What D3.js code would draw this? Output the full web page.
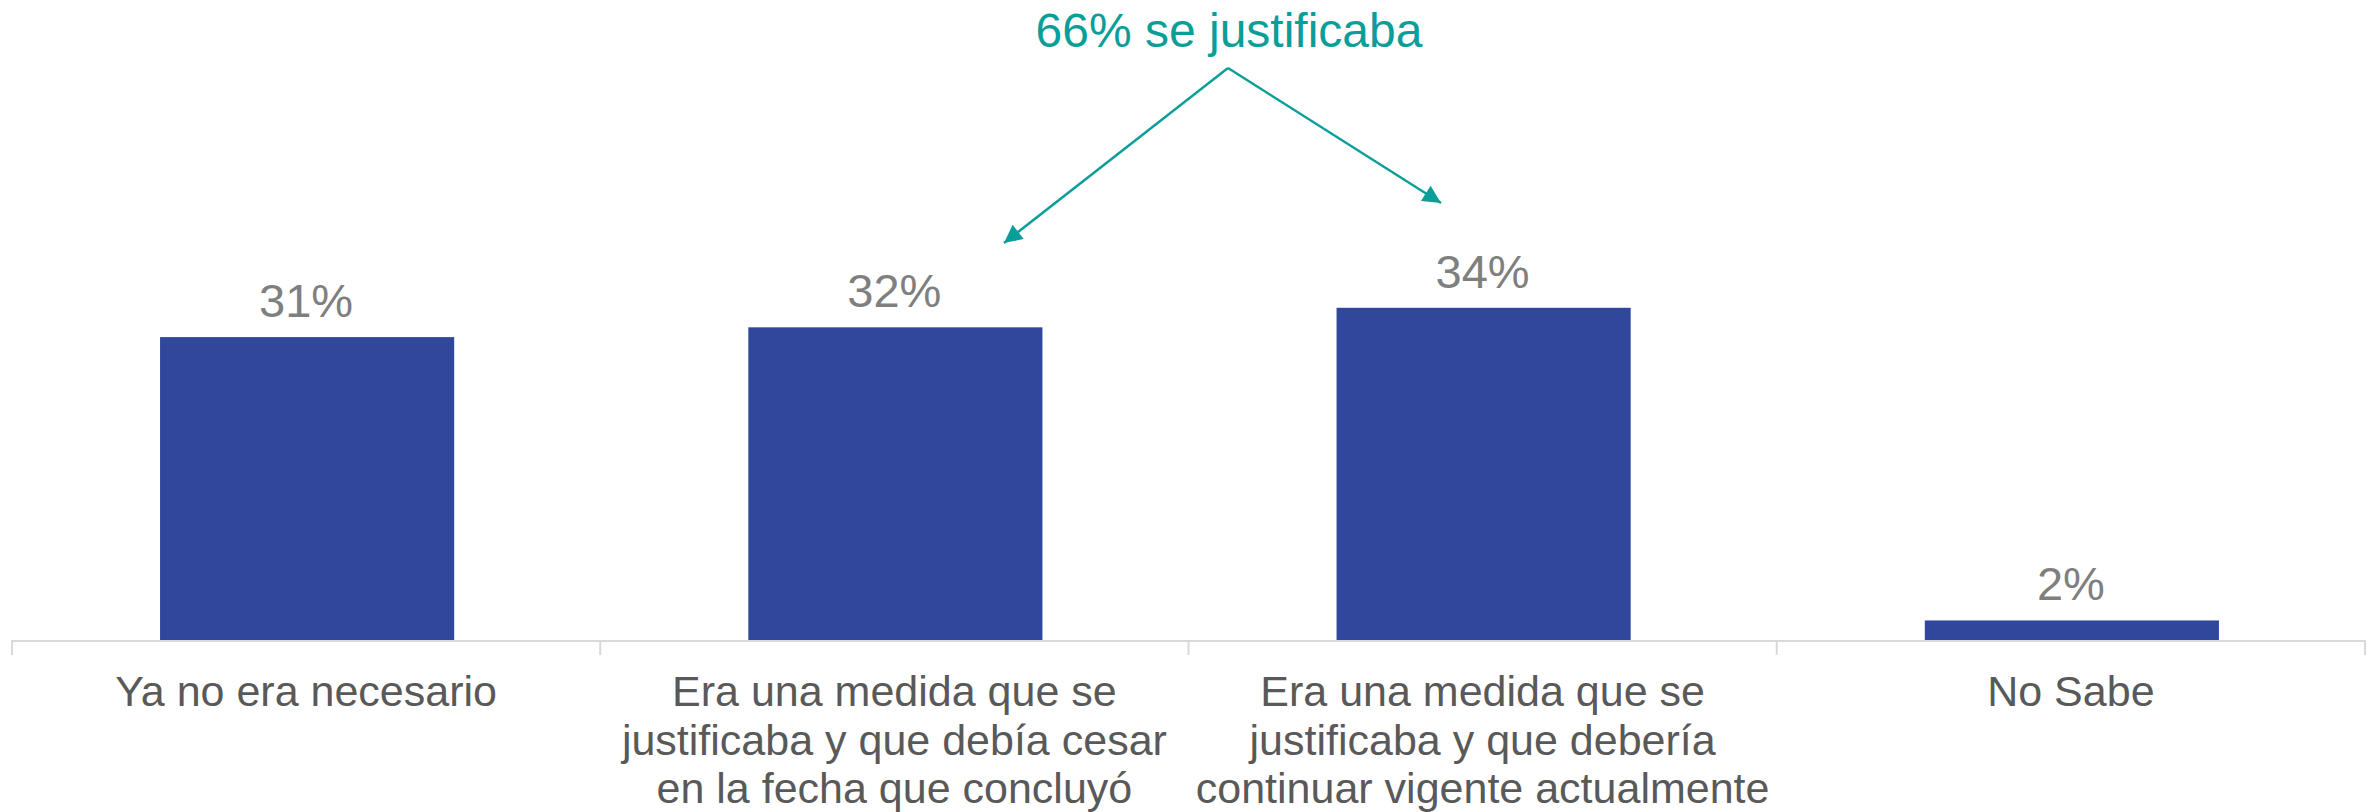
<!DOCTYPE html>
<html>
<head>
<meta charset="utf-8">
<script src="https://cdn.jsdelivr.net/npm/d3@7"></script>
<style>
  body { margin: 0; background: #fff; }
  text { font-family: "Liberation Sans", Arial, sans-serif; }
</style>
</head>
<body>
<div class="canvas"></div>
<script>
// chart data
const categories = [
    ['Ya no era necesario'],
    ['Era una medida que se', 'justificaba y que debía cesar', 'en la fecha que concluyó'],
    ['Era una medida que se', 'justificaba y que debería', 'continuar vigente actualmente'],
    ['No Sabe']
];
const values = [31, 32, 34, 2];
const annotation = '66% se justificaba';

const dims = { width: 2377, height: 812 };

const svg = d3.select('.canvas')
    .append('svg')
    .attr('width', dims.width)
    .attr('height', dims.height);

// scales
const x = d3.scaleBand()
    .domain(d3.range(values.length))
    .range([12, 2365])
    .paddingInner(0.5)
    .paddingOuter(0.25);

const y = d3.scaleLinear()
    .domain([0, 65.5])
    .range([640, 0]);

// bars
svg.selectAll('.bar')
    .data(values)
    .enter()
    .append('rect')
    .attr('class', 'bar')
    .attr('x', (d, i) => x(i) + 1)
    .attr('y', d => y(d))
    .attr('width', x.bandwidth())
    .attr('height', d => y(0) - y(d))
    .attr('fill', '#30479B');

// value labels
svg.selectAll('.val')
    .data(values)
    .enter()
    .append('text')
    .attr('class', 'val')
    .attr('x', (d, i) => x(i) + x.bandwidth() / 2)
    .attr('y', d => y(d) - 20)
    .attr('text-anchor', 'middle')
    .attr('font-size', 47)
    .attr('fill', '#7F7F7F')
    .text(d => d + '%');

// axis line + tick separators between categories
const step = x.step();
const [x0, x1] = x.range();
svg.append('line')
    .attr('x1', x0).attr('x2', x1)
    .attr('y1', y(0) + 1).attr('y2', y(0) + 1)
    .attr('stroke', '#D9D9D9')
    .attr('stroke-width', 2);

svg.selectAll('.tick')
    .data(d3.range(values.length + 1))
    .enter()
    .append('line')
    .attr('class', 'tick')
    .attr('x1', i => x0 + i * step)
    .attr('x2', i => x0 + i * step)
    .attr('y1', y(0))
    .attr('y2', y(0) + 15)
    .attr('stroke', '#D9D9D9')
    .attr('stroke-width', 2);

// category labels (multi-line)
const catText = svg.selectAll('.cat')
    .data(categories)
    .enter()
    .append('text')
    .attr('class', 'cat')
    .attr('text-anchor', 'middle')
    .attr('font-size', 43)
    .attr('fill', '#595959');

catText.selectAll('tspan')
    .data((d, i) => d.map(line => ({ line, i })))
    .enter()
    .append('tspan')
    .attr('x', d => x(d.i) + x.bandwidth() / 2)
    .attr('y', (d, j) => 706 + j * 48.5)
    .text(d => d.line);

// annotation with arrows pointing at bars 2 and 3
const teal = '#0A9E98';
svg.append('defs').append('marker')
    .attr('id', 'arrow')
    .attr('viewBox', '0 0 10 10')
    .attr('refX', 10).attr('refY', 5)
    .attr('markerWidth', 22).attr('markerHeight', 18)
    .attr('markerUnits', 'userSpaceOnUse')
    .attr('orient', 'auto')
    .append('path')
    .attr('d', 'M0,0 L10,5 L0,10 Z')
    .attr('fill', teal);

const apex = [1228, 68];
const tips = [[1004, 243], [1441, 203]];

svg.selectAll('.arrow')
    .data(tips)
    .enter()
    .append('line')
    .attr('class', 'arrow')
    .attr('x1', apex[0]).attr('y1', apex[1])
    .attr('x2', d => d[0]).attr('y2', d => d[1])
    .attr('stroke', teal)
    .attr('stroke-width', 2.4)
    .attr('marker-end', 'url(#arrow)');

svg.append('text')
    .attr('x', 1229)
    .attr('y', 47)
    .attr('text-anchor', 'middle')
    .attr('font-size', 48)
    .attr('fill', teal)
    .text(annotation);
</script>
</body>
</html>
